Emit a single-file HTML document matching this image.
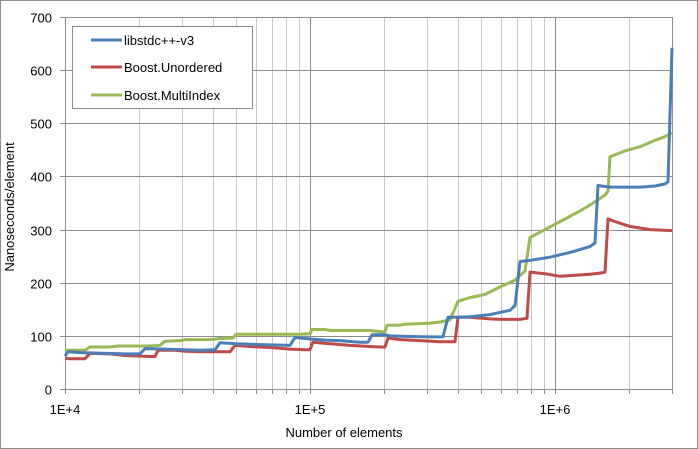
<!DOCTYPE html><html><head><style>body{margin:0;background:#fff}svg{display:block;font-family:"Liberation Sans",sans-serif}</style></head><body>
<svg id="s" width="698" height="449" xmlns="http://www.w3.org/2000/svg">
<rect x="0.5" y="0.5" width="697" height="448" fill="#fff" stroke="#8c8c8c"/>
<g id="grid" stroke="#bdbdbd" stroke-width="1"></g>
<g id="txt" font-size="13" fill="#000"></g>
<g id="lines" fill="none" stroke-width="3" stroke-linejoin="round"></g>
<rect x="72.5" y="26.5" width="180" height="82" fill="#fff" stroke="#8c8c8c"/>
<line x1="91" y1="40" x2="122" y2="40" stroke="#4a7ebb" stroke-width="3"/>
<line x1="91" y1="67" x2="122" y2="67" stroke="#be4b48" stroke-width="3"/>
<line x1="91" y1="95" x2="122" y2="95" stroke="#98b954" stroke-width="3"/>
<text x="124" y="45" font-size="13">libstdc++-v3</text>
<text x="124" y="72" font-size="13">Boost.Unordered</text>
<text x="124" y="100" font-size="13">Boost.MultiIndex</text>
</svg>
<script>
(function(){
var ns="http://www.w3.org/2000/svg";
function el(t,a,p,tx){var e=document.createElementNS(ns,t);for(var k in a)e.setAttribute(k,a[k]);if(tx)e.textContent=tx;p.appendChild(e);return e;}
var g=document.getElementById('grid'),T=document.getElementById('txt'),L=document.getElementById('lines');
var x0=65,dec=245,topY=17,bot=389,right=672;
function X(v){return x0+Math.log10(v/1e4)*dec;}
function Y(v){return bot-v*(bot-topY)/700;}
for(var d=1e4;d<1e7;d*=10)for(var m=1;m<10;m++){var x=X(d*m);if(x>right+0.5)break;var xx=Math.round(x)+0.5;
 el('line',{x1:xx,y1:topY,x2:xx,y2:bot,stroke:m==1?'#8c8c8c':'#c8c8c8'},g);
 el('line',{x1:xx,y1:bot,x2:xx,y2:bot+5,stroke:'#8c8c8c'},g);}
el('line',{x1:right+.5,y1:topY,x2:right+.5,y2:bot+5,stroke:'#8c8c8c'},g);
for(var v=0;v<=700;v+=100){var y=Math.round(Y(v))+.5;el('line',{x1:x0-5,y1:y,x2:right,y2:y,stroke:'#8c8c8c'},g);
 el('text',{x:52,y:y+5,'text-anchor':'end'},T,String(v));}
el('line',{x1:x0+.5,y1:topY,x2:x0+.5,y2:bot,stroke:'#8c8c8c'},g);
[['1E+4',1e4],['1E+5',1e5],['1E+6',1e6]].forEach(function(a){el('text',{x:X(a[1]),y:414,'text-anchor':'middle'},T,a[0]);});
el('text',{x:344,y:437,'text-anchor':'middle'},T,'Number of elements');
el('text',{x:0,y:0,'text-anchor':'middle',transform:'translate(14,207) rotate(-90)'},T,'Nanoseconds/element');
var G=[[65,73],[85,73],[90,79],[110,79],[118,81],[150,81],[160,82],[165,90],[180,91],[185,93],[210,93],[220,95],[233,96],[236,103],[300,103],[310,104],[312,112],[325,112],[330,110],[370,110],[380,108],[385,107],[387,120],[400,120],[405,122],[430,124],[440,126],[450,130],[458,165],[470,172],[485,178],[500,192],[515,205],[525,222],[530,285],[540,295],[560,315],[580,335],[595,352],[605,365],[608,372],[610,437],[625,448],[640,456],[655,468],[665,475],[672,482]];
var B=[[65,62],[68,70],[85,68],[90,68],[125,66],[140,66],[145,76],[165,75],[200,73],[215,74],[220,87],[236,85],[270,83],[290,82],[295,97],[305,95],[310,94],[325,92],[340,91],[360,88],[368,88],[372,102],[385,102],[390,100],[405,99],[430,98],[443,98],[448,135],[458,135],[470,136],[490,140],[510,148],[515,157],[520,240],[530,242],[550,248],[570,257],[590,268],[595,275],[598,383],[610,380],[640,380],[655,382],[665,386],[668,390],[672,642]];
var R=[[65,58],[70,57],[85,57],[90,67],[110,66],[125,63],[140,62],[155,61],[158,73],[175,73],[185,71],[200,70],[230,70],[235,82],[250,80],[270,78],[290,75],[305,74],[310,74],[313,88],[330,85],[350,82],[370,80],[380,79],[385,79],[388,96],[400,93],[420,91],[440,89],[455,89],[458,135],[470,135],[490,132],[500,131],[520,131],[527,133],[530,220],[545,217],[560,212],[575,214],[590,216],[600,218],[605,220],[608,320],[615,315],[630,306],[650,300],[672,298]];
[[G,'#98b954'],[R,'#be4b48'],[B,'#4a7ebb']].forEach(function(s){el('polyline',{points:s[0].map(function(p){return p[0]+','+Y(p[1]).toFixed(1)}).join(' '),stroke:s[1]},L);});
})();
</script></body></html>
